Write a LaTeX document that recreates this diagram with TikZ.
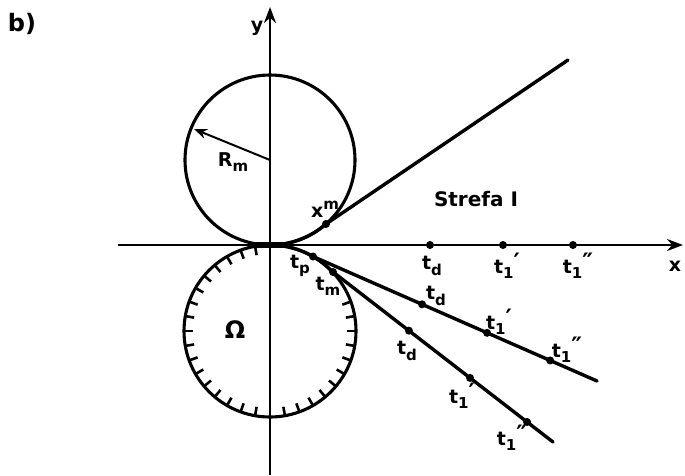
\documentclass[tikz,border=0pt]{standalone}
\usepackage{fontspec}
\setmainfont{DejaVu Sans}
\usetikzlibrary{arrows.meta}
\newcommand\subx[1]{\raisebox{-0.28em}{\fontsize{15}{17}\selectfont #1}}
\newcommand\supx[1]{\raisebox{0.42em}{\fontsize{15}{17}\selectfont #1}}
\newcommand\primex[1]{\raisebox{0.12em}{\fontsize{24}{24}\selectfont #1}}
\newcommand\tlab[2]{t\subx{#1}\primex{#2}}
\begin{document}
\begin{tikzpicture}[x=1pt,y=-1pt,
  axis/.style={line width=2.3pt},
  circ/.style={line width=3.1pt},
  traj/.style={line width=3.4pt, line cap=round},
  dot/.style={circle,fill=black,inner sep=0pt,minimum size=8pt},
  lab/.style={font=\fontsize{19}{22}\selectfont\bfseries, inner sep=0pt},
  hatch/.style={line width=2.6pt}]
\useasboundingbox (0,0) rectangle (685,475);
% centres and key points
\coordinate (O) at (270,245);
\coordinate (C1) at (270,160);
\coordinate (C2) at (270,331);
\coordinate (Xm) at (326,224);
\coordinate (Tp) at (313,256.5);
\coordinate (Tm) at (333,272);
\coordinate (E0) at (568,60);
\coordinate (E1) at (597,381);
\coordinate (E2) at (553,442);
\coordinate (Xs) at (118,245);
\coordinate (Xe) at (683,245);
\coordinate (Ys) at (270,475);
\coordinate (Ye) at (270,7);
\coordinate (Rt) at (194,129);
% axes
\draw[axis,-{Stealth[length=16pt,width=12pt]}] (Xs) -- (Xe);
\draw[axis,-{Stealth[length=16pt,width=12pt]}] (Ys) -- (Ye);
% circles
\draw[circ] (C1) circle[radius=85];
\draw[circ] (C2) circle[radius=86];
\foreach \a in {100,110,...,260} {
  \draw[hatch] ([shift={(-\a:86)}]C2) -- ([shift={(-\a:77)}]C2);
}
\foreach \a in {280,290,...,380} {
  \draw[hatch] ([shift={(-\a:86)}]C2) -- ([shift={(-\a:77)}]C2);
}
% radius arrow
\draw[line width=2pt,-{Stealth[length=13pt,width=10pt]}] (C1) -- (Rt);
% trajectories
\draw[traj] plot[domain=90:48.8,samples=25] ({270+85*cos(\x)},{160+85*sin(\x)});
\draw[traj] (Xm) -- (E0);
\draw[traj] plot[domain=-90:-43,samples=25] ({270+86*cos(\x)},{331+86*sin(\x)});
\draw[traj] (Tp) -- (E1)
  node[dot,pos=0.384] (d1a) {}
  node[dot,pos=0.613] (d1b) {}
  node[dot,pos=0.835] (d1c) {};
\draw[traj] (Tm) -- (E2)
  node[dot,pos=0.345] (d2a) {}
  node[dot,pos=0.623] (d2b) {}
  node[dot,pos=0.882] (d2c) {};
\draw[line width=6pt] (256,245) -- (292,245);
% dots
\node[dot] (dXm) at (Xm) {};
\node[dot] (dTp) at (Tp) {};
\node[dot] (dTm) at (Tm) {};
\node[dot] (a1) at (430,245) {};
\node[dot] (a2) at (503,245) {};
\node[dot] (a3) at (573,245) {};
% labels
\node[lab,font=\fontsize{24}{28}\selectfont\bfseries] (lb) at (22,24) {b)};
\node[lab] (ly) at (257,28) {y};
\node[lab] (lx) at (675,266) {x};
\node[lab] (lR) at (233,162) {R\subx{m}};
\node[lab] (lXm) at (325,209) {x\supx{m}};
\node[lab,font=\fontsize{20}{22}\selectfont\bfseries] (lS) at (476,199) {Strefa I};
\node[lab,font=\fontsize{24}{28}\selectfont\bfseries] (lOm) at (235,330) {Ω};
\node[lab] (lTp) at (300,266) {\tlab{p}{}};
\node[lab] (lTm) at (328,286) {\tlab{m}{}};
\node[lab] (lx1) at (432,266) {\tlab{d}{}};
\node[lab] (lx2) at (507,266) {\tlab{1}{′}};
\node[lab] (lx3) at (578,266) {\tlab{1}{″}};
\node[lab] (l1a) at (436,296) {\tlab{d}{}};
\node[lab] (l1b) at (499,322) {\tlab{1}{′}};
\node[lab] (l1c) at (567,350) {\tlab{1}{″}};
\node[lab] (l2a) at (407,351) {\tlab{d}{}};
\node[lab] (l2b) at (462,396) {\tlab{1}{′}};
\node[lab] (l2c) at (512,438) {\tlab{1}{″}};
\end{tikzpicture}
\end{document}
